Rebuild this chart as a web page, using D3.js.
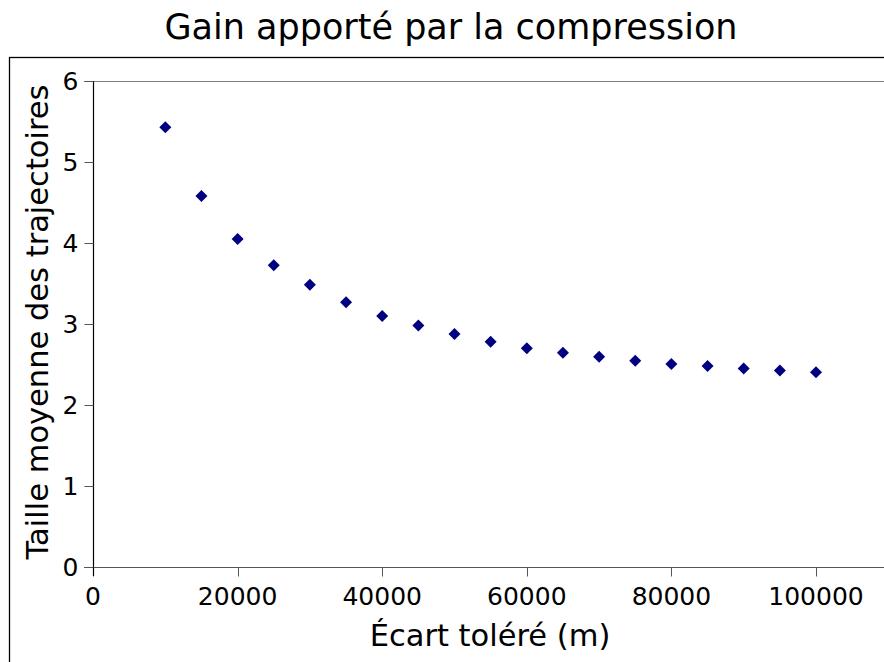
<!DOCTYPE html>
<html>
<head>
<meta charset="utf-8">
<script src="https://cdn.jsdelivr.net/npm/d3@7"></script>
<style>
  html, body { margin: 0; padding: 0; background: #fff; overflow: hidden; }
  svg { display: block; font-family: "DejaVu Sans", sans-serif; }
</style>
</head>
<body>
<svg id="chart" width="884" height="662"></svg>
<script>
// Tolerated deviation (m) and mean trajectory size after compression
const ecarts = [10000, 15000, 20000, 25000, 30000, 35000, 40000, 45000, 50000, 55000,
                60000, 65000, 70000, 75000, 80000, 85000, 90000, 95000, 100000];
const tailles = [5.43, 4.58, 4.05, 3.725, 3.485, 3.27, 3.10, 2.98, 2.875, 2.78,
                 2.70, 2.645, 2.595, 2.545, 2.505, 2.48, 2.45, 2.425, 2.405];
const xTicks = [0, 20000, 40000, 60000, 80000, 100000];
const yTicks = [0, 1, 2, 3, 4, 5, 6];

const titre = "Gain apporté par la compression";
const labelX = "Écart toléré (m)";
const labelY = "Taille moyenne des trajectoires";

const svg = d3.select("#chart");
const W = 884, H = 662;

const x = d3.scaleLinear().domain([0, 100000]).range([93, 816]);
const y = d3.scaleLinear().domain([0, 6]).range([567, 81]);
const xRight = W + 5;

// outer frame
svg.append("rect")
  .attr("x", 9.5).attr("y", 57.5)
  .attr("width", W).attr("height", H)
  .attr("fill", "none").attr("stroke", "#000").attr("stroke-width", 1.3);

// top boundary of the plot area (at the max y tick)
svg.append("line")
  .attr("x1", 84).attr("x2", xRight)
  .attr("y1", y(6) + 0.5).attr("y2", y(6) + 0.5)
  .attr("stroke", "#808080").attr("stroke-width", 1);

// x axis
const gx = svg.append("g").attr("transform", `translate(0,${y(0) + 0.5})`);
gx.append("line").attr("x1", 84).attr("x2", xRight)
  .attr("stroke", "#555").attr("stroke-width", 1.2);
gx.selectAll("line.tick").data(xTicks).enter().append("line")
  .attr("class", "tick")
  .attr("x1", d => Math.round(x(d)) + 0.5).attr("x2", d => Math.round(x(d)) + 0.5)
  .attr("y1", 0).attr("y2", 9)
  .attr("stroke", "#555").attr("stroke-width", 1);
gx.selectAll("text").data(xTicks).enter().append("text")
  .attr("x", d => x(d)).attr("y", 37)
  .attr("text-anchor", "middle")
  .attr("font-size", 25)
  .text(d => d);

// y axis
const gy = svg.append("g").attr("transform", `translate(${x(0) + 0.5},0)`);
gy.append("line").attr("y1", y(6)).attr("y2", y(0) + 9)
  .attr("stroke", "#000").attr("stroke-width", 1.2);
gy.selectAll("line.tick").data(yTicks).enter().append("line")
  .attr("class", "tick")
  .attr("x1", -9).attr("x2", 0)
  .attr("y1", d => Math.round(y(d)) + 0.5).attr("y2", d => Math.round(y(d)) + 0.5)
  .attr("stroke", "#555").attr("stroke-width", 1);
gy.selectAll("text").data(yTicks).enter().append("text")
  .attr("x", -15).attr("y", d => y(d) + 9)
  .attr("text-anchor", "end")
  .attr("font-size", 25)
  .text(d => d);

// data points (diamonds)
const diamond = d3.symbol().type(d3.symbolSquare).size(72);
svg.append("g").selectAll("path").data(ecarts).enter().append("path")
  .attr("d", diamond)
  .attr("transform", (d, i) => `translate(${x(d)},${y(tailles[i])}) rotate(45)`)
  .attr("fill", "#000080");

// titles
svg.append("text")
  .attr("x", 451).attr("y", 39)
  .attr("text-anchor", "middle")
  .attr("font-size", 35)
  .text(titre);

svg.append("text")
  .attr("x", 490).attr("y", 646)
  .attr("text-anchor", "middle")
  .attr("font-size", 30.5)
  .text(labelX);

svg.append("text")
  .attr("transform", `translate(48,322) rotate(-90)`)
  .attr("text-anchor", "middle")
  .attr("font-size", 30.5)
  .text(labelY);
</script>
</body>
</html>
